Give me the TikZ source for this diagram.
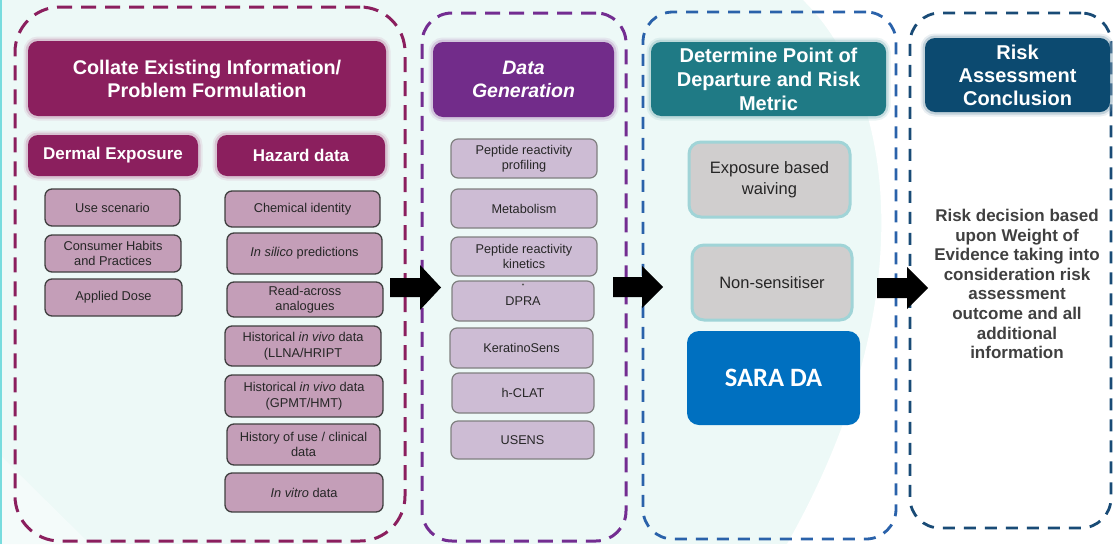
\documentclass[tikz,border=0pt]{standalone}
\usepackage{fontspec}
\setmainfont{Liberation Sans}
\newfontfamily\carl{Carlito}
\definecolor{bg}{RGB}{237,249,247}
\definecolor{edgec}{RGB}{120,220,222}
\definecolor{magc}{RGB}{139,31,94}
\definecolor{itempink}{RGB}{196,158,184}
\definecolor{purc}{RGB}{115,45,145}
\definecolor{purh}{RGB}{114,44,138}
\definecolor{lilac}{RGB}{205,188,212}
\definecolor{bluec}{RGB}{42,98,170}
\definecolor{tealh}{RGB}{31,122,133}
\definecolor{grayb}{RGB}{208,206,206}
\definecolor{tealb}{RGB}{160,212,215}
\definecolor{sarac}{RGB}{0,112,192}
\definecolor{navyc}{RGB}{25,75,118}
\definecolor{navyh}{RGB}{12,74,112}
\tikzset{
  container/.style={draw=#1, line width=3pt, dash pattern=on 15pt off 9pt, rounded corners=30pt, inner sep=0pt},
  hdr/.style={fill=#1, rounded corners=10pt, text=white, align=center, inner sep=0pt,
    font=\bfseries\fontsize{19.8}{23}\selectfont,
    preaction={draw=#1!45, line width=9pt, opacity=0.2},
    preaction={draw=#1!55, line width=5pt, opacity=0.35}},
  item/.style={draw=black!75, line width=1.3pt, fill=itempink, rounded corners=7pt, align=center,
    inner sep=0pt, font=\fontsize{12.8}{15.5}\selectfont, text=black!85},
  ditem/.style={draw=black!50, line width=1.2pt, fill=lilac, rounded corners=7pt, align=center,
    inner sep=0pt, font=\fontsize{12.7}{15}\selectfont, text=black!85},
  gbox/.style={draw=tealb, line width=3pt, fill=grayb, rounded corners=12pt, align=center,
    inner sep=0pt, font=\fontsize{16.5}{21}\selectfont, text=black!85},
  blockarrow/.style={fill=black}
}
\begin{document}
\begin{tikzpicture}[x=1pt,y=-1pt]
\useasboundingbox (0,0) rectangle (1113,544);
% background
\fill[bg] (0,0) rectangle (1113,544);
\fill[white] (803,0) .. controls (895,90) and (925,300) .. (787,544) -- (1113,544) -- (1113,0) -- cycle;
\fill[white!40!bg] (0,455) -- (90,544) -- (0,544) -- cycle;
\fill[edgec] (0,0) rectangle (2,544);

% containers
\node[container=magc, rounded corners=45pt, minimum width=390pt, minimum height=534pt] (c1) at (210,274) {};
\node[container=purc, minimum width=204pt, minimum height=528pt] (c2) at (524,277) {};
\node[container=bluec, line width=2.8pt, dash pattern=on 12pt off 9pt, minimum width=253pt, minimum height=527pt] (c3) at (769.5,275.5) {};
\node[container=navyc, line width=2.8pt, dash pattern=on 12pt off 9pt, minimum width=201pt, minimum height=515pt] (c4) at (1010.5,270.5) {};

% column 1
\node[hdr=magc, minimum width=358pt, minimum height=75pt] (h1) at (207,78.5) {Collate Existing Information/\\Problem Formulation};
\node[hdr=magc, font=\bfseries\fontsize{17}{20}\selectfont, minimum width=170pt, minimum height=41pt] (derm) at (113,155.5) {Dermal Exposure};
\node[hdr=magc, font=\bfseries\fontsize{17}{20}\selectfont, minimum width=168pt, minimum height=41pt] (haz) at (301,155.5) {Hazard data};

\node[item, minimum width=135pt, minimum height=37pt] (use) at (112.5,207.5) {Use scenario};
\node[item, minimum width=136pt, minimum height=37pt] (habits) at (113,253.5) {Consumer Habits\\and Practices};
\node[item, minimum width=137pt, minimum height=37pt] (dose) at (113.5,297.5) {Applied Dose};

\node[item, minimum width=155pt, minimum height=36pt] (chem) at (302.5,209) {Chemical identity};
\node[item, minimum width=155pt, minimum height=41pt] (silico) at (304.5,253.5) {\textit{In silico} predictions};
\node[item, minimum width=156pt, minimum height=35pt] (read) at (305,299.5) {Read-across\\analogues};
\node[item, minimum width=156pt, minimum height=40pt] (llna) at (303,346) {Historical \textit{in vivo} data\\(LLNA/HRIPT};
\node[item, minimum width=158pt, minimum height=42pt] (gpmt) at (304,396) {Historical \textit{in vivo} data\\(GPMT/HMT)};
\node[item, minimum width=153pt, minimum height=41pt] (hist) at (303.5,444.5) {History of use / clinical\\data};
\node[item, minimum width=158pt, minimum height=39pt] (vitro) at (304,492.5) {\textit{In vitro} data};

% column 2
\node[hdr=purh, font=\bfseries\itshape\fontsize{19.5}{23}\selectfont, minimum width=181pt, minimum height=75pt] (h2) at (523.5,79.5) {Data\\Generation};
\node[ditem, minimum width=146pt, minimum height=39pt] (prof) at (524,158.5) {Peptide reactivity\\profiling};
\node[ditem, minimum width=146pt, minimum height=39pt] (metab) at (524,208.5) {Metabolism};
\node[ditem, minimum width=146pt, minimum height=39pt] (kin) at (524,256.5) {Peptide reactivity\\kinetics};
\node[ditem, minimum width=142pt, minimum height=40pt] (dpra) at (523,301) {DPRA};
\fill[black!65] (523,284.5) circle (1.1pt);
\node[ditem, minimum width=143pt, minimum height=40pt] (kera) at (521.5,348) {KeratinoSens};
\node[ditem, minimum width=142pt, minimum height=40pt] (hclat) at (523,393) {h-CLAT};
\node[ditem, minimum width=143pt, minimum height=38pt] (usens) at (522.5,440) {USENS};

% column 3
\node[hdr=tealh, minimum width=235pt, minimum height=74pt, font=\bfseries\fontsize{20}{24}\selectfont] (h3) at (768.5,79) {Determine Point of\\Departure and Risk\\Metric};
\node[gbox, minimum width=161pt, minimum height=75pt] (waive) at (769.5,179.5) {Exposure based\\waiving};
\node[gbox, minimum width=160pt, minimum height=75pt] (nons) at (772,282.5) {Non-sensitiser};
\node[fill=sarac, rounded corners=12pt, minimum width=173pt, minimum height=94pt, text=white, font=\carl\bfseries\fontsize{26.5}{30}\selectfont] (sara) at (773.5,378) {SARA DA};

% column 4
\node[hdr=navyh, minimum width=185pt, minimum height=74pt, font=\bfseries\fontsize{20}{23}\selectfont] (h4) at (1017.5,75) {Risk\\Assessment\\Conclusion};
\node[font=\bfseries\fontsize{17}{19.6}\selectfont, text=black!75, align=center, inner sep=0pt] (dec) at (1017,284) {Risk decision based\\upon Weight of\\Evidence taking into\\consideration risk\\assessment\\outcome and all\\additional\\information};

% block arrows
\fill[blockarrow] (390,278) -- (420,278) -- (420,265) -- (441,287.5) -- (420,310) -- (420,297) -- (390,297) -- cycle;
\fill[blockarrow] (613,277) -- (642,277) -- (642,266) -- (663,287) -- (642,308) -- (642,297) -- (613,297) -- cycle;
\fill[blockarrow] (877,278) -- (907,278) -- (907,267) -- (928,288) -- (907,309) -- (907,298) -- (877,298) -- cycle;
\end{tikzpicture}
\end{document}
